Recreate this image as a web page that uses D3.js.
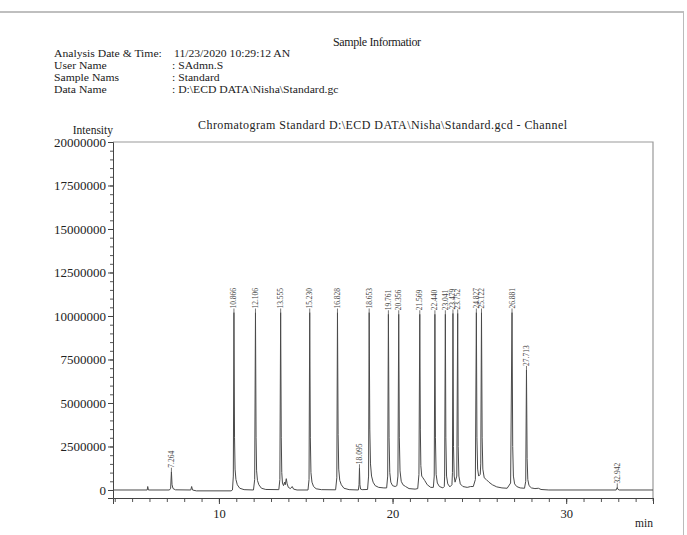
<!DOCTYPE html>
<html>
<head>
<meta charset="utf-8">
<script src="https://cdn.jsdelivr.net/npm/d3@7"></script>
<style>
  body { margin: 0; background: #fff; }
  svg { display: block; font-family: "Liberation Serif", "DejaVu Serif", serif; }
</style>
</head>
<body>
<div id="chart"></div>
<script>
// header block
const headerKeys = ["Analysis Date & Time:", "User Name", "Sample Nams", "Data Name"];
const headerValues = ["11/23/2020 10:29:12 AN", ": SAdmn.S", ": Standard", ": D:\\ECD DATA\\Nisha\\Standard.gc"];
const chartTitle = "Chromatogram Standard D:\\ECD DATA\\Nisha\\Standard.gcd - Channel";

// axis ticks
const yTicks = [0, 2500000, 5000000, 7500000, 10000000, 12500000, 15000000, 17500000, 20000000];
const xTicks = [10, 20, 30];

// labelled peaks: retention time (min), apex intensity (millions)
const peakTimes = [7.264, 10.866, 12.106, 13.555, 15.230, 16.828, 18.095, 18.653, 19.761, 20.356,
                   21.569, 22.440, 23.041, 23.479, 23.752, 24.827, 25.122, 26.881, 27.713, 32.942];
const peakHeights = [1.05, 10.2, 10.2, 10.2, 10.2, 10.2, 1.25, 10.2, 10.1, 10.1,
                     10.1, 10.1, 10.1, 10.15, 10.15, 10.2, 10.2, 10.2, 6.9, 0.15];

// chromatogram trace: [min, intensity in millions]
const trace = [
  [3.9, 0], [5.8, 0], [5.87, 0], [5.9, 0.2], [5.94, 0],
  [7.15, 0], [7.22, 0.1], [7.264, 1.05], [7.3, 0.3], [7.36, 0.08], [7.5, 0.01],
  [8.38, 0], [8.43, 0.2], [8.48, 0], [8.7, -0.05], [10.7, -0.05],
  [10.78, 0], [10.83, 0.8], [10.866, 10.2], [10.9, 3.0], [10.93, 1.2], [10.98, 0.6], [11.06, 0.3], [11.2, 0.1], [11.45, 0.02],
  [11.99, 0], [12.06, 0.6], [12.106, 10.2], [12.14, 3.0], [12.17, 1.1], [12.22, 0.55], [12.3, 0.3], [12.45, 0.1], [12.7, 0.03],
  [13.45, 0.02], [13.51, 0.6], [13.555, 10.2], [13.59, 3.0], [13.62, 1.0], [13.66, 0.4], [13.72, 0.25], [13.78, 0.45],
  [13.82, 0.3], [13.88, 0.65], [13.93, 0.35], [14.0, 0.15], [14.12, 0.08], [14.22, 0.2], [14.3, 0.05], [14.5, 0],
  [15.13, 0], [15.19, 0.6], [15.23, 10.2], [15.265, 3.0], [15.3, 1.0], [15.36, 0.45], [15.45, 0.2], [15.6, 0.07], [15.9, 0.02],
  [16.72, 0.01], [16.79, 0.7], [16.828, 10.2], [16.865, 3.2], [16.9, 1.2], [16.96, 0.55], [17.05, 0.3], [17.2, 0.1], [17.5, 0.02],
  [18.03, 0], [18.07, 0.3], [18.095, 1.25], [18.12, 0.3], [18.16, 0.05], [18.25, 0.02],
  [18.56, 0.03], [18.62, 0.8], [18.653, 10.2], [18.69, 3.5], [18.73, 1.5], [18.79, 0.8], [18.88, 0.45], [19.0, 0.25], [19.2, 0.15], [19.5, 0.12],
  [19.66, 0.12], [19.72, 0.8], [19.761, 10.1], [19.8, 3.0], [19.84, 1.0], [19.9, 0.45], [20.0, 0.25], [20.15, 0.2], [20.25, 0.25],
  [20.31, 0.8], [20.356, 10.1], [20.39, 3.0], [20.43, 1.1], [20.5, 0.5], [20.6, 0.3], [20.75, 0.2], [20.95, 0.08], [21.3, 0.05], [21.45, 0.08],
  [21.52, 0.9], [21.569, 10.1], [21.6, 3.5], [21.63, 1.4], [21.68, 0.8], [21.75, 0.7], [21.85, 0.55], [22.0, 0.3], [22.2, 0.15], [22.35, 0.15],
  [22.4, 0.8], [22.44, 10.1], [22.47, 3.0], [22.51, 0.9], [22.58, 0.4], [22.7, 0.2], [22.9, 0.12], [22.98, 0.2],
  [23.0, 0.8], [23.041, 10.1], [23.07, 3.0], [23.11, 0.8], [23.18, 0.35], [23.3, 0.18], [23.42, 0.3],
  [23.45, 1.0], [23.479, 10.15], [23.51, 2.5], [23.55, 0.8], [23.6, 0.45], [23.7, 0.8],
  [23.752, 10.15], [23.78, 2.5], [23.82, 0.8], [23.9, 0.35], [24.05, 0.2], [24.3, 0.15], [24.5, 0.2], [24.65, 0.2], [24.77, 0.6],
  [24.827, 10.2], [24.86, 3.0], [24.9, 1.2], [24.96, 0.8], [25.05, 0.9], [25.08, 1.5],
  [25.122, 10.2], [25.16, 3.0], [25.2, 1.2], [25.28, 0.7], [25.4, 0.6], [25.55, 0.45], [25.75, 0.3], [26.0, 0.18], [26.3, 0.12], [26.6, 0.1], [26.8, 0.4],
  [26.881, 10.2], [26.92, 2.5], [26.96, 0.8], [27.03, 0.35], [27.15, 0.2], [27.35, 0.12], [27.6, 0.1], [27.67, 0.5],
  [27.713, 6.9], [27.75, 1.8], [27.79, 0.6], [27.86, 0.25], [28.0, 0.12], [28.2, 0.08], [28.4, 0.1], [28.55, 0.03], [29.0, 0],
  [32.88, 0], [32.91, 0.1], [32.942, 0.15], [32.97, 0.05], [33.05, 0], [35, 0]
];

const W = 687, H = 535;
const margin = {top: 142, right: 34, bottom: 37, left: 113};

const svg = d3.select("#chart").append("svg")
    .attr("width", W)
    .attr("height", H);

// page border
svg.append("line")
    .attr("x1", 0).attr("x2", 684).attr("y1", 12).attr("y2", 12)
    .attr("stroke", "#aaa").attr("stroke-width", 1.5);
svg.append("line")
    .attr("x1", 683.5).attr("x2", 683.5).attr("y1", 12).attr("y2", H)
    .attr("stroke", "#bbb").attr("stroke-width", 1);

// header text
svg.append("text")
    .attr("x", 333).attr("y", 46)
    .style("font-size", "12px").attr("fill", "#222")
    .attr("textLength", 88)
    .text("Sample Informatior");

// the printed rows are tight: small font, stretched a little sideways
const rowY = [57, 69, 81, 93];
svg.selectAll(".hkey").data(headerKeys).join("text")
    .attr("class", "hkey")
    .attr("transform", (d, i) => `translate(54,${rowY[i]}) scale(1.08,1)`)
    .style("font-size", "10.8px").attr("fill", "#222")
    .text(d => d);
svg.selectAll(".hval").data(headerValues).join("text")
    .attr("class", "hval")
    .attr("transform", (d, i) => `translate(${i === 0 ? 174 : 172},${rowY[i]}) scale(1.08,1)`)
    .style("font-size", "10.8px").attr("fill", "#222")
    .text(d => d);

svg.append("text")
    .attr("x", 198).attr("y", 129)
    .style("font-size", "12px").attr("fill", "#222")
    .attr("textLength", 369)
    .text(chartTitle);

const innerW = W - margin.left - margin.right;
const innerH = H - margin.top - margin.bottom;

const x = d3.scaleLinear().domain([3.9, 35]).range([margin.left, margin.left + innerW]);
const y = d3.scaleLinear().domain([-460000, 20000000]).range([margin.top + innerH, margin.top]);

// frame: top and right in grey
svg.append("path")
    .attr("d", `M${margin.left},${margin.top}H${margin.left + innerW}V${margin.top + innerH + 3}`)
    .attr("fill", "none").attr("stroke", "#999").attr("stroke-width", 1.2);

// y axis
const yAxis = svg.append("g")
    .attr("transform", `translate(${margin.left},0)`);
yAxis.append("g")
    .call(d3.axisLeft(y).tickValues(d3.range(0, 20000001, 500000)).tickSize(3).tickFormat(""))
    .call(g => g.select(".domain").remove())
    .call(g => g.selectAll("line").attr("stroke", "#555"));
yAxis.append("g")
    .call(d3.axisLeft(y).tickValues(yTicks).tickSize(5).tickPadding(2).tickFormat(d3.format("d")))
    .call(g => g.select(".domain").attr("stroke", "#444"))
    .call(g => g.selectAll("line").attr("stroke", "#444"))
    .call(g => g.selectAll("text")
        .attr("fill", "#222")
        .style("font-family", "'Liberation Serif', serif")
        .style("font-size", "13px"));

svg.append("text")
    .attr("x", 113).attr("y", 134)
    .attr("text-anchor", "end")
    .style("font-size", "11.5px").attr("fill", "#222")
    .text("Intensity");

// x axis
const xAxis = svg.append("g")
    .attr("transform", `translate(0,${margin.top + innerH})`);
xAxis.append("g")
    .call(d3.axisBottom(x).tickValues(d3.range(4, 36)).tickSize(4).tickFormat(""))
    .call(g => g.select(".domain").remove())
    .call(g => g.selectAll("line").attr("stroke", "#555"));
xAxis.append("g")
    .call(d3.axisBottom(x).tickValues(xTicks).tickSize(6).tickPadding(5).tickFormat(d3.format("d")))
    .call(g => g.select(".domain").attr("stroke", "#444"))
    .call(g => g.selectAll("line").attr("stroke", "#444"))
    .call(g => g.selectAll("text")
        .attr("fill", "#222")
        .style("font-family", "'Liberation Serif', serif")
        .style("font-size", "12.5px"));

svg.append("text")
    .attr("x", 653).attr("y", 527)
    .attr("text-anchor", "end")
    .style("font-size", "11.5px").attr("fill", "#222")
    .text("min");

// trace
const line = d3.line()
    .x(d => x(d[0]))
    .y(d => y(d[1] * 1e6));

svg.append("path")
    .datum(trace)
    .attr("fill", "none")
    .attr("stroke", "#4a4a4a")
    .attr("stroke-width", 1)
    .attr("stroke-linejoin", "round")
    .attr("d", line);

// peak labels
const peaks = peakTimes.map((t, i) => ({t, h: peakHeights[i] * 1e6}));
const labels = svg.selectAll(".peak").data(peaks).join("g")
    .attr("class", "peak");
labels.append("line")
    .attr("x1", d => x(d.t)).attr("x2", d => x(d.t))
    .attr("y1", d => y(d.h)).attr("y2", d => y(d.h) - 4)
    .attr("stroke", "#555").attr("stroke-width", 0.8);
labels.append("text")
    .attr("transform", d => `translate(${x(d.t)},${y(d.h) - 4}) rotate(-90)`)
    .attr("dy", "0.33em")
    .style("font-size", "7.5px")
    .attr("fill", "#444")
    .text(d => d.t.toFixed(3));
</script>
</body>
</html>
